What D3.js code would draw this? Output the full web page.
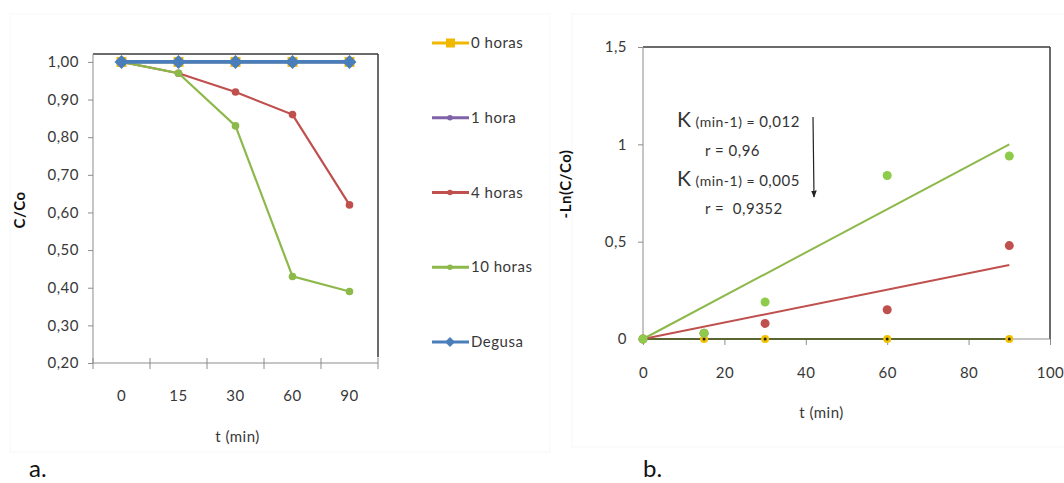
<!DOCTYPE html>
<html><head><meta charset="utf-8">
<script src="https://cdn.jsdelivr.net/npm/d3@7/dist/d3.min.js"></script>
<style>
body{margin:0;background:#fff;}
text{font-family:Lato,"Open Sans",sans-serif;fill:#383838;letter-spacing:0.5px;}
</style>
</head><body>
<svg id="c" width="1064" height="483"></svg>
<script>
// ---------- Chart a data ----------
const timeCats = ["0","15","30","60","90"];
const yTicksA = [0.2,0.3,0.4,0.5,0.6,0.7,0.8,0.9,1.0];
const seriesNames = ["0 horas","1 hora","4 horas","10 horas","Degusa"];
const series0h = [1.00,1.00,1.00,1.00,1.00];
const series1h = [1.00,1.00,1.00,1.00,1.00];
const series4h = [1.00,0.97,0.92,0.86,0.62];
const series10h = [1.00,0.97,0.83,0.43,0.39];
const seriesDegusa = [1.00,1.00,1.00,1.00,1.00];

// ---------- Chart b data ----------
const timeMin = [0,15,30,60,90];
const lnC0h = [0,0,0,0,0];
const lnC4h = [0,0.03,0.08,0.15,0.48];
const lnC10h = [0,0.03,0.19,0.84,0.94];
const trendT = [0,90];
const trend0h = [0,0];
const trend4h = [0,0.38];
const trend10h = [0,1.0];
const xTicksB = [0,20,40,60,80,100];
const yTicksB = [0,0.5,1,1.5];
const yTickLabelsB = ["0","0,5","1","1,5"];

const colors = {"0 horas":"#F2B800","1 hora":"#7F62A8","4 horas":"#C0504D","10 horas":"#8DB84A","Degusa":"#4A7EBB"};
const fmt = d => d.toFixed(2).replace(".", ",");
const FS = 15;

const svg = d3.select("#c");

// faint panel outlines
svg.append("rect").attr("x",10).attr("y",14).attr("width",540).attr("height",438)
  .attr("fill","none").attr("stroke","#f7f7f7");
svg.append("rect").attr("x",572).attr("y",14).attr("width",500).attr("height",433)
  .attr("fill","none").attr("stroke","#f7f7f7");

// ================= Chart a =================
const gA = svg.append("g");
const xA = d3.scaleBand().domain(timeCats).range([93,378]).padding(0);
const yA = d3.scaleLinear().domain([0.2,1.021]).range([363,54]);

gA.append("line").attr("x1",93).attr("x2",378).attr("y1",yA(1.021)).attr("y2",yA(1.021)).attr("stroke","#3a3a3a").attr("stroke-width",1.5);
gA.append("line").attr("x1",378).attr("x2",378).attr("y1",yA(1.021)).attr("y2",yA(0.215)).attr("stroke","#3a3a3a").attr("stroke-width",1.5);

const axL = gA.append("g").attr("transform","translate(93,0)")
  .call(d3.axisLeft(yA).tickValues(yTicksA).tickFormat(fmt).tickSize(5).tickPadding(9));
axL.select(".domain").attr("stroke","#8c8c8c").attr("d",`M0,${yA(1.021)}V${yA(0.2)}`);
axL.selectAll(".tick line").attr("stroke","#8c8c8c");
axL.selectAll(".tick text").attr("font-size",FS).style("fill","#383838");

const axB = gA.append("g").attr("transform",`translate(0,${yA(0.2)})`)
  .call(d3.axisBottom(xA).tickSize(0).tickPadding(27));
axB.select(".domain").attr("stroke","#8c8c8c").attr("d","M93,0H378");
axB.selectAll(".tick text").attr("font-size",FS).style("fill","#383838");
const bounds = timeCats.map(c=>xA(c)).concat([xA.range()[1]]);
gA.selectAll(".xb").data(bounds).join("line").attr("class","xb")
  .attr("x1",d=>d).attr("x2",d=>d).attr("y1",yA(0.2)-5).attr("y2",yA(0.2)+6)
  .attr("stroke","#8c8c8c");

gA.append("text").attr("x",xA.range()[0]+(xA.range()[1]-xA.range()[0])/2+2).attr("y",442)
  .attr("text-anchor","middle").attr("font-size",FS).text("t (min)");
gA.append("text").attr("transform","translate(25,210) rotate(-90)")
  .attr("text-anchor","middle").attr("font-size",FS).attr("font-weight","bold").style("fill","#111").text("C/Co");

const cx = c => xA(c)+xA.bandwidth()/2;
const lineA = d3.line().x((d,i)=>cx(timeCats[i])).y(d=>yA(d));

const seriesA = [
  {name:"0 horas", vals:series0h, w:2.5, marker:"square"},
  {name:"1 hora", vals:series1h, w:2.5, marker:"x"},
  {name:"4 horas", vals:series4h, w:2.2, marker:"circle"},
  {name:"10 horas", vals:series10h, w:2.2, marker:"circle"},
  {name:"Degusa", vals:seriesDegusa, w:3.8, marker:"diamond"}
];

function drawMarker(g, type, x, y, col){
  if(type==="square") g.append("rect").attr("x",x-5).attr("y",y-5).attr("width",10).attr("height",10).attr("fill",col);
  else if(type==="circle") g.append("circle").attr("cx",x).attr("cy",y).attr("r",3.8).attr("fill",col);
  else if(type==="diamond") g.append("path").attr("d",`M${x},${y-7}L${x+7},${y}L${x},${y+7}L${x-7},${y}Z`).attr("fill",col);
  else if(type==="x") g.append("path").attr("d",`M${x-3},${y-3}L${x+3},${y+3}M${x-3},${y+3}L${x+3},${y-3}`).attr("stroke",col).attr("stroke-width",1.5);
}

seriesA.forEach(s=>{
  const col = colors[s.name];
  gA.append("path").datum(s.vals).attr("d",lineA).attr("fill","none").attr("stroke",col).attr("stroke-width",s.w);
  s.vals.forEach((v,i)=>drawMarker(gA,s.marker,cx(timeCats[i]),yA(v),col));
});

// legend
const legY = d3.scalePoint().domain(seriesNames).range([43,342]);
seriesA.forEach(s=>{
  const col = colors[s.name];
  const y = legY(s.name);
  gA.append("line").attr("x1",432).attr("x2",469).attr("y1",y).attr("y2",y).attr("stroke",col).attr("stroke-width",3);
  const mk = s.marker==="square" ? "square" : s.marker==="diamond" ? "diamond" : "circle";
  if(mk==="square") gA.append("rect").attr("x",446).attr("y",y-4.5).attr("width",9).attr("height",9).attr("fill",col);
  else if(mk==="diamond") gA.append("path").attr("d",`M450,${y-5}L455,${y}L450,${y+5}L445,${y}Z`).attr("fill",col);
  else gA.append("circle").attr("cx",450).attr("cy",y).attr("r",2.8).attr("fill",col);
  gA.append("text").attr("x",471).attr("y",y+5).attr("font-size",FS).text(s.name);
});

svg.append("text").attr("x",29).attr("y",477).attr("font-size",24).style("fill","#111").style("letter-spacing","0px").text("a.");

// ================= Chart b =================
const gB = svg.append("g");
const xB = d3.scaleLinear().domain([0,100]).range([643,1050]);
const yB = d3.scaleLinear().domain([0,1.5]).range([339,47]);

gB.append("line").attr("x1",xB(0)).attr("x2",xB(100)).attr("y1",yB(1.5)).attr("y2",yB(1.5)).attr("stroke","#3a3a3a").attr("stroke-width",1.5);
gB.append("line").attr("x1",xB(100)).attr("x2",xB(100)).attr("y1",yB(1.5)).attr("y2",yB(0)).attr("stroke","#3a3a3a").attr("stroke-width",1.5);

const axBL = gB.append("g").attr("transform",`translate(${xB(0)},0)`)
  .call(d3.axisLeft(yB).tickValues(yTicksB).tickFormat((d,i)=>yTickLabelsB[i]).tickSize(5).tickPadding(11));
axBL.select(".domain").attr("stroke","#8c8c8c").attr("d",`M0,${yB(1.5)}V${yB(0)}`);
axBL.selectAll(".tick line").attr("stroke","#8c8c8c");
axBL.selectAll(".tick text").attr("font-size",FS).style("fill","#383838");

const axBB = gB.append("g").attr("transform",`translate(0,${yB(0)})`)
  .call(d3.axisBottom(xB).tickValues(xTicksB).tickFormat(d3.format("d")).tickSize(6).tickPadding(22));
axBB.select(".domain").attr("stroke","#8c8c8c").attr("d",`M${xB(0)},0H${xB(100)}`);
axBB.selectAll(".tick line").attr("stroke","#8c8c8c");
axBB.selectAll(".tick text").attr("font-size",FS).style("fill","#383838");

gB.append("text").attr("x",(xB(0)+xB(100))/2-25).attr("y",418).attr("text-anchor","middle").attr("font-size",FS).text("t (min)");
gB.append("text").attr("transform","translate(571,184) rotate(-90)")
  .attr("text-anchor","middle").attr("font-size",FS).attr("font-weight","bold").style("fill","#111").text("-Ln(C/Co)");

// trend lines
const trendLine = d3.line().x((d,i)=>xB(trendT[i])).y(d=>yB(d));
gB.append("path").datum(trend0h).attr("d",trendLine).attr("stroke","#5a6630").attr("stroke-width",2).attr("fill","none");
gB.append("path").datum(trend4h).attr("d",trendLine).attr("stroke","#C0504D").attr("stroke-width",2).attr("fill","none");
gB.append("path").datum(trend10h).attr("d",trendLine).attr("stroke","#8DB84A").attr("stroke-width",2).attr("fill","none");

// points
lnC0h.forEach((v,i)=>{
  if(timeMin[i]===0) return;
  gB.append("circle").attr("cx",xB(timeMin[i])).attr("cy",yB(v)).attr("r",4).attr("fill","#F2C200");
  gB.append("circle").attr("cx",xB(timeMin[i])).attr("cy",yB(v)).attr("r",1.5).attr("fill","#222");
});
lnC4h.forEach((v,i)=>gB.append("circle").attr("cx",xB(timeMin[i])).attr("cy",yB(v)).attr("r",4.5).attr("fill","#C0504D"));
lnC10h.forEach((v,i)=>gB.append("circle").attr("cx",xB(timeMin[i])).attr("cy",yB(v)).attr("r",4.5).attr("fill","#8DCB4A"));

// annotations
function kText(x,y,val){
  const t = gB.append("text").attr("x",x).attr("y",y).style("fill","#333");
  t.append("tspan").attr("font-size",21).text("K");
  t.append("tspan").attr("font-size",14).text(" (min-1) = ");
  t.append("tspan").attr("font-size",15).text(val);
}
kText(677,127,"0,012");
gB.append("text").attr("x",705).attr("y",156).attr("font-size",15).style("fill","#333").text("r = 0,96");
kText(677,186,"0,005");
gB.append("text").attr("x",705).attr("y",214).attr("font-size",15).style("fill","#333").attr("xml:space","preserve").text("r =  0,9352");

svg.append("defs").append("marker").attr("id","arr").attr("viewBox","0 0 10 10").attr("refX",9).attr("refY",5)
  .attr("markerWidth",6).attr("markerHeight",6).attr("orient","auto")
  .append("path").attr("d","M0,1L10,5L0,9Z").attr("fill","#222");
gB.append("line").attr("x1",813).attr("y1",117).attr("x2",814).attr("y2",197).attr("stroke","#222").attr("stroke-width",1.2).attr("marker-end","url(#arr)");

svg.append("text").attr("x",643).attr("y",477).attr("font-size",24).style("fill","#111").style("letter-spacing","0px").text("b.");
</script>
</body></html>
